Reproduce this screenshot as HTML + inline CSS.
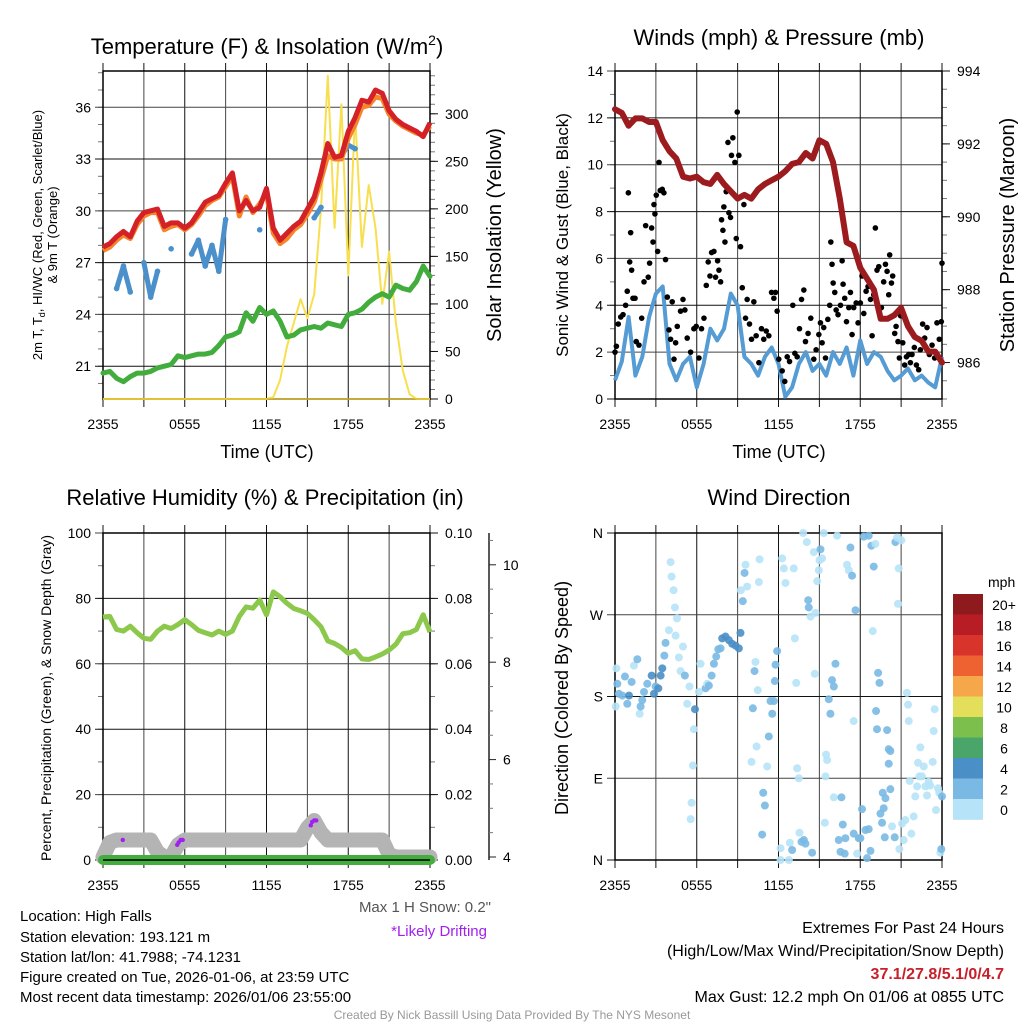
<!DOCTYPE html>
<html><head><meta charset="utf-8"><title>NYS Mesonet Meteogram</title>
<style>
html,body{margin:0;padding:0;background:#fff;}
svg{display:block;font-family:"Liberation Sans",Arial,sans-serif;}
</style></head>
<body>
<svg id="fig" width="1024" height="1024" viewBox="0 0 1024 1024" xmlns="http://www.w3.org/2000/svg">
<rect width="1024" height="1024" fill="#fff"/>
<text x="267" y="54" font-size="22" text-anchor="middle">Temperature (F) &amp; Insolation (W/m<tspan font-size="14" dy="-9">2</tspan><tspan dy="9">)</tspan></text>
<text x="779" y="45" font-size="22" text-anchor="middle">Winds (mph) &amp; Pressure (mb)</text>
<text x="265" y="505" font-size="22" text-anchor="middle">Relative Humidity (%) &amp; Precipitation (in)</text>
<text x="779" y="505" font-size="22" text-anchor="middle">Wind Direction</text>
<text x="267" y="458" font-size="18" text-anchor="middle">Time (UTC)</text>
<text x="779" y="458" font-size="18" text-anchor="middle">Time (UTC)</text>
<text transform="translate(42,235) rotate(-90)" font-size="13" text-anchor="middle">2m T, T<tspan font-size="9" dy="3">d</tspan><tspan dy="-3">, HI/WC (Red, Green, Scarlet/Blue)</tspan></text>
<text transform="translate(57,235) rotate(-90)" font-size="13" text-anchor="middle">&amp; 9m T (Orange)</text>
<text transform="translate(501,235) rotate(-90)" font-size="20" text-anchor="middle">Solar Insolation (Yellow)</text>
<text transform="translate(568,235) rotate(-90)" font-size="17" text-anchor="middle">Sonic Wind &amp; Gust (Blue, Black)</text>
<text transform="translate(1014,235) rotate(-90)" font-size="20" text-anchor="middle">Station Pressure (Maroon)</text>
<text transform="translate(51,698) rotate(-90)" font-size="14" text-anchor="middle">Percent, Precipitation (Green), &amp; Snow Depth (Gray)</text>
<text transform="translate(568,698) rotate(-90)" font-size="18" text-anchor="middle">Direction (Colored By Speed)</text>
<g font-size="15">
<text x="20" y="921">Location: High Falls</text>
<text x="20" y="942">Station elevation: 193.121 m</text>
<text x="20" y="962">Station lat/lon: 41.7988; -74.1231</text>
<text x="20" y="982">Figure created on Tue, 2026-01-06, at 23:59 UTC</text>
<text x="20" y="1002">Most recent data timestamp: 2026/01/06 23:55:00</text>
</g>
<text x="491" y="912" font-size="15" fill="#555" text-anchor="end">Max 1 H Snow: 0.2"</text>
<text x="487" y="936" font-size="15" fill="#a020f0" text-anchor="end">*Likely Drifting</text>
<text x="1004" y="933" font-size="16" text-anchor="end">Extremes For Past 24 Hours</text>
<text x="1004" y="956" font-size="16" text-anchor="end">(High/Low/Max Wind/Precipitation/Snow Depth)</text>
<text x="1004" y="979" font-size="16" font-weight="bold" fill="#c8202a" text-anchor="end">37.1/27.8/5.1/0/4.7</text>
<text x="1004" y="1002" font-size="16" text-anchor="end">Max Gust: 12.2 mph On 01/06 at 0855 UTC</text>
<text x="512" y="1019" font-size="12" fill="#999" text-anchor="middle">Created By Nick Bassill Using Data Provided By The NYS Mesonet</text>
<text x="988" y="587" font-size="14">mph</text>
</svg>
<script>
const timeLabels = ["2355","0555","1155","1755","2355"];
const lineHours = [0,0.5,1,1.5,2,2.5,3,3.5,4,4.5,5,5.5,6,6.5,7,7.5,8,8.5,9,9.5,10,10.5,11,11.5,12,12.5,13,13.5,14,14.5,15,15.5,16,16.5,17,17.5,18,18.5,19,19.5,20,20.5,21,21.5,22,22.5,23,23.5,24];
const tempRed = [27.9,28.1,28.5,28.8,28.5,29.4,29.9,30.0,30.1,29.1,29.3,29.3,29.0,29.3,29.9,30.5,30.7,30.9,31.6,32.2,30.0,30.6,30.0,30.2,31.3,29.0,28.3,28.7,29.1,29.4,30.1,30.8,32.2,33.9,33.1,33.2,34.6,35.4,36.4,36.3,37.0,36.8,35.8,35.3,35.0,34.8,34.6,34.3,35.1];
const temp9m = [27.7,27.9,28.3,28.6,28.4,29.2,29.7,29.9,29.9,28.9,29.1,29.2,28.9,29.2,29.7,30.3,30.6,30.8,31.4,32.0,29.7,30.8,29.9,30.4,31.0,28.7,28.1,28.4,28.9,29.2,29.8,30.5,31.8,33.2,33.0,33.0,34.2,35.0,36.0,36.1,36.6,36.5,35.6,35.2,34.9,34.7,34.5,34.4,34.9];
const tempDew = [20.6,20.7,20.3,20.1,20.4,20.6,20.6,20.7,20.9,21.0,21.1,21.6,21.5,21.6,21.7,21.7,21.8,22.2,22.7,22.8,23.0,24.1,23.6,24.4,24.0,24.2,23.6,22.7,22.8,23.1,23.2,23.3,23.2,23.5,23.4,23.3,24.0,24.1,24.3,24.7,25.0,25.2,25.0,25.7,25.5,25.4,25.9,26.8,26.2];
const windChill = [null,null,25.5,26.8,25.3,null,27.0,25.0,26.5,null,27.8,null,null,27.5,28.3,26.8,28.0,26.5,29.5,null,null,null,null,28.9,null,null,null,null,null,null,null,29.6,30.2,null,null,33.2,33.8,33.6,null,null,null,null,null,null,null,null,null,null,null];
const solar = [0,0,0,0,0,0,0,0,0,0,0,0,0,0,0,0,0,0,0,0,0,0,0,0,0,2,20,55,80,105,85,110,200,340,180,310,130,300,160,225,180,100,155,80,30,5,0,0,0];
const sonicWind = [0.8,1.6,3.5,1.0,1.8,3.5,4.5,4.8,1.5,0.8,1.5,1.8,0.5,1.5,3.0,2.5,3.0,4.5,4.0,1.8,1.5,1.0,1.8,2.2,1.5,0.1,0.5,1.5,2.0,1.2,1.5,1.0,2.0,1.5,2.2,1.0,2.5,1.5,2.0,1.8,1.2,0.8,1.0,1.3,0.8,1.0,0.7,0.5,1.8];
const pressure = [992.95,992.85,992.5,992.7,992.7,992.6,992.6,992.1,991.8,991.6,991.1,991.05,991.1,990.95,990.9,991.15,990.9,990.7,990.5,990.6,990.5,990.75,990.9,991.0,991.1,991.25,991.45,991.5,991.75,991.6,992.1,992.0,991.5,990.5,989.3,989.2,988.6,988.3,988.0,987.2,987.2,987.3,987.5,987.0,986.7,986.6,986.3,986.3,986.0];
const gustHours = [0,0.1,0.24,0.42,0.59,0.78,0.9,0.98,1.08,1.15,1.22,1.32,1.47,1.56,1.76,1.96,2.13,2.25,2.44,2.54,2.69,2.79,2.86,2.93,3.03,3.13,3.23,3.32,3.47,3.59,3.71,3.84,3.96,4.08,4.2,4.33,4.45,4.57,4.81,4.99,5.13,5.3,5.55,5.79,5.96,6.16,6.35,6.53,6.7,6.84,6.97,7.09,7.26,7.38,7.53,7.63,7.75,7.82,7.92,7.99,8.07,8.16,8.29,8.36,8.48,8.55,8.65,8.8,8.9,8.97,9.09,9.21,9.34,9.46,9.58,9.7,9.87,10.02,10.19,10.36,10.56,10.75,10.92,11.1,11.29,11.49,11.66,11.78,11.9,12.02,12.27,12.46,12.64,12.81,13.05,13.2,13.37,13.54,13.69,13.86,13.98,14.17,14.37,14.59,14.76,14.96,15.08,15.2,15.32,15.45,15.62,15.76,15.84,15.93,16.01,16.13,16.23,16.37,16.55,16.67,16.74,16.86,16.99,17.16,17.28,17.4,17.52,17.7,17.84,18.01,18.13,18.26,18.43,18.57,18.75,18.87,18.99,19.11,19.23,19.36,19.55,19.72,19.85,19.97,20.09,20.16,20.29,20.38,20.53,20.63,20.77,20.87,20.97,21.12,21.26,21.39,21.56,21.68,21.8,21.97,22.12,22.29,22.41,22.58,22.73,22.9,23.07,23.27,23.46,23.63,23.8,23.95,24];
const gustValues = [2.0,2.25,3.2,3.5,3.6,4.0,4.6,8.8,5.85,7.1,5.5,4.3,4.3,2.45,2.3,3.45,5.0,7.4,5.2,5.8,7.3,6.7,8.3,7.9,8.7,6.3,10.1,8.9,8.95,8.8,5.95,4.35,2.95,2.55,4.15,1.7,2.4,3.1,3.75,4.25,3.8,2.6,2.0,3.0,3.1,1.75,3.0,3.45,4.85,5.85,5.25,6.25,6.3,5.2,5.9,5.5,5.0,7.65,7.2,8.2,6.7,8.85,10.95,7.95,7.75,10.4,11.15,10.1,6.85,12.25,10.4,6.5,4.75,8.3,3.45,4.25,3.2,2.55,4.15,2.7,1.55,3.0,2.55,2.9,2.7,4.55,4.3,4.55,3.75,1.7,1.2,0.75,1.8,1.6,4.0,1.95,1.8,3.0,4.25,4.65,2.45,2.8,3.45,1.7,2.1,2.75,3.25,2.4,3.05,1.75,3.4,4.0,6.7,5.75,4.95,4.55,3.8,3.6,4.0,5.9,4.9,4.3,3.3,3.9,4.55,2.75,3.9,4.1,3.25,4.1,5.25,3.65,4.6,4.8,4.25,2.7,4.45,7.3,5.5,5.65,3.9,5.0,5.75,5.45,4.45,6.15,4.95,5.25,2.8,3.1,2.45,1.75,3.55,2.4,1.45,1.8,1.9,1.55,1.9,2.2,1.45,1.25,2.1,3.2,2.6,3.05,1.9,2.3,1.75,3.25,2.55,3.3,5.8];
const relHumidity = [74.3,74.5,70.5,70,71.5,69.5,67.8,67.5,70,71.5,70.8,72,73.5,72,70.2,69.5,68.8,70,69,70,74.5,77.4,77,79.5,75,82,80.5,78.5,76.9,76.2,75.4,73.5,71.3,67,66.2,65,63.2,64,61.5,61.3,62.1,63,64.2,66,69.2,69.5,70.5,75,69.7];
const precip = [0,0,0,0,0,0,0,0,0,0,0,0,0,0,0,0,0,0,0,0,0,0,0,0,0,0,0,0,0,0,0,0,0,0,0,0,0,0,0,0,0,0,0,0,0,0,0,0,0];
const snowDepth = [4.0,4.3,4.35,4.35,4.35,4.35,4.35,4.35,4.1,4.0,4.0,4.25,4.35,4.35,4.35,4.35,4.35,4.35,4.35,4.35,4.35,4.35,4.35,4.35,4.35,4.35,4.35,4.35,4.35,4.35,4.6,4.75,4.5,4.35,4.35,4.35,4.35,4.35,4.35,4.35,4.35,4.35,4.05,4.0,4.0,4.0,4.0,4.0,4.0];
const driftHours = [1.45,5.45,5.55,5.7,5.85,15.25,15.35,15.5,15.65];
const driftDepth = [4.35,4.25,4.3,4.35,4.35,4.65,4.72,4.75,4.75];
const dirHours = [
0.10,0.17,0.05,0.29,0.54,0.73,0.90,1.03,1.22,1.39,
1.64,1.81,1.88,2.00,2.13,2.37,2.69,2.86,2.98,3.18,
3.35,3.47,3.62,3.71,4.08,4.15,4.30,4.40,4.55,3.96,
4.45,4.69,4.81,4.99,5.13,5.30,5.47,5.87,5.79,5.72,
5.62,5.55,6.16,6.28,6.65,6.77,6.89,7.09,7.26,7.43,
7.58,7.75,7.87,8.11,8.36,8.60,8.85,9.09,9.21,9.24,
9.38,9.51,9.58,9.70,10.02,10.12,10.24,10.31,10.39,10.48,
10.56,10.61,10.80,10.88,11.00,11.17,11.29,11.41,11.54,11.66,
11.73,11.78,11.90,12.15,12.15,12.27,12.39,12.51,12.76,12.83,
13.00,13.12,13.20,13.30,13.37,13.49,13.54,13.69,13.86,13.98,
14.08,13.81,14.18,14.22,14.35,14.47,14.59,14.66,14.71,14.84,
14.96,15.01,15.08,15.20,15.32,15.40,15.49,15.57,15.45,15.69,
15.81,15.93,16.06,16.18,16.06,16.30,16.42,16.55,16.62,16.72,
16.86,16.91,17.03,17.16,17.28,17.40,17.52,17.52,17.65,17.77,
17.89,18.01,18.13,18.26,18.38,18.50,18.62,18.62,18.75,18.82,
18.92,18.99,19.11,19.16,19.23,19.31,19.41,19.48,19.60,19.65,
19.72,19.85,19.80,19.97,20.09,20.21,20.09,20.21,20.33,20.53,
20.58,20.70,20.77,20.82,20.87,21.02,21.07,21.19,21.31,21.43,
21.51,21.56,21.63,21.75,21.92,22.04,22.17,22.24,22.34,22.41,
22.53,22.66,22.78,22.90,23.02,23.14,23.32,23.39,23.46,23.56,
23.71,23.80,23.88,23.95,24.00];
const dirDegrees = [
211,194,169,183,181,202,172,181,196,214,
221,161,169,176,185,194,203,183,191,189,
203,211,225,239,328,312,297,278,266,253,
247,223,208,235,203,172,191,166,144,104,
63,45,185,216,189,194,192,203,216,224,
232,233,244,246,242,238,236,233,250,297,
285,316,325,301,108,167,208,218,125,187,
306,331,28,74,60,103,136,175,161,175,
197,215,230,0,13,332,321,305,0,19,
11,321,244,195,101,90,30,20,22,18,
350,360,286,278,268,8,339,205,272,307,
319,330,342,332,360,41,116,110,92,177,
161,198,191,216,69,357,22,9,69,39,
7,24,325,319,344,313,153,29,275,7,
24,24,56,356,33,2,357,34,10,346,
252,323,348,164,144,206,195,51,41,74,
57,68,25,143,122,120,106,78,37,25,
350,355,282,321,12,352,40,22,44,184,
171,153,87,29,48,70,81,107,92,124,
92,103,81,71,86,82,108,142,166,55,
79,74,8,12,70];
const dirSpeeds = [
1,3,1,3,3,3,3,5,3,1,
3,1,3,3,3,3,5,5,3,5,
5,5,3,3,1,1,1,1,1,1,
1,1,1,1,3,1,1,5,1,1,
1,1,1,1,3,1,3,3,3,3,
3,3,5,5,5,5,5,5,5,1,
3,3,1,1,1,3,3,1,1,1,
1,1,3,3,3,1,3,3,3,3,
3,3,3,1,1,1,1,1,1,1,
3,1,1,1,1,1,1,3,3,3,
1,1,3,3,1,3,1,1,1,1,
1,1,3,1,1,1,1,1,1,3,
3,3,3,3,1,1,3,3,3,3,
3,3,1,1,3,3,1,3,3,1,
3,3,3,3,3,3,3,3,3,3,
1,3,1,3,3,3,3,3,3,3,
3,3,3,3,3,3,3,3,1,3,
3,1,1,1,1,1,1,1,1,1,
1,1,1,1,1,1,1,1,1,1,
1,1,1,1,1,1,1,1,1,1,
1,1,1,3,3];
const speedBins = ["20+","18","16","14","12","10","8","6","4","2","0"];
const binColors = ["#8f1a1e","#b81d25","#d9342b","#ee6130","#f5a74a","#e3df5b","#7cbf4c","#4aa56b","#4a8fc6","#7ab9e3","#b6e3f7"];

const NS = "http://www.w3.org/2000/svg";
const svg = document.getElementById("fig");
function mk(tag, attrs, parent) {
  const el = document.createElementNS(NS, tag);
  for (const k in attrs) el.setAttribute(k, attrs[k]);
  (parent || svg).appendChild(el);
  return el;
}
const P1 = {x0:103,x1:430,y0:71,y1:399};
const P2 = {x0:615,x1:942,y0:71,y1:399};
const P3 = {x0:103,x1:430,y0:533,y1:860};
const P4 = {x0:615,x1:942,y0:533,y1:860};
function xs(P, h) { return P.x0 + h / 24 * (P.x1 - P.x0); }
function lin(P, lo, hi) { return v => P.y1 - (v - lo) / (hi - lo) * (P.y1 - P.y0); }
const yT = lin(P1, 19.1, 38.1), yS = lin(P1, 0, 345);
const yW = lin(P2, 0, 14), yP = lin(P2, 985, 994);
const yR = lin(P3, 0, 100), yPr = lin(P3, 0, 0.1);
const ySn = d => 857 - (d - 4) * 48.7;
const yD = lin(P4, 0, 360);
function pathFrom(P, xsArr, ysArr, yf) {
  let d = "", pen = false;
  for (let i = 0; i < xsArr.length; i++) {
    if (ysArr[i] === null || ysArr[i] === undefined) { pen = false; continue; }
    d += (pen ? "L" : "M") + xs(P, xsArr[i]).toFixed(1) + "," + yf(ysArr[i]).toFixed(1);
    pen = true;
  }
  return d;
}

function frame(P, id, leftTicks, leftMinor, yl, leftLbl, rightTicks, rightMinor, yr, rightLbl) {
  const g = mk("g", {});
  
  
  for (let i = 0; i <= 8; i++) {
    const x = P.x0 + i * (P.x1 - P.x0) / 8;
    const gl = mk("line", {x1:x, x2:x, y1:P.y0, y2:P.y1, stroke: i % 2 ? "#444" : "#111", "stroke-width":1}, g);
    
    
    const tt = mk("line", {x1:x, x2:x, y1:P.y0 - 8, y2:P.y0, stroke:"#111"}, g);
    
    
    const bt = mk("line", {x1:x, x2:x, y1:P.y1, y2:P.y1 + 8, stroke:"#111"}, g);
    
    
    if (i % 2 === 0) {
      const t = mk("text", {x:x, y:P.y1 + 30, "font-size":14, "text-anchor":"middle"}, g);
      t.textContent = timeLabels[i / 2];
      
      
    }
  }
  leftMinor.forEach(v => {
    const m = mk("line", {x1:P.x0 - 5, x2:P.x0, y1:yl(v), y2:yl(v), stroke:"#777"}, g);
    
    
  });
  leftTicks.forEach((v, i) => {
    const y = yl(v);
    const gl = mk("line", {x1:P.x0 - 8, x2:P.x1, y1:y, y2:y, stroke: i % 2 ? "#444" : "#111"}, g);
    
    
    const t = mk("text", {x:P.x0 - 12, y:y + 5, "font-size":14, "text-anchor":"end"}, g);
    t.textContent = leftLbl[i];
    
    
  });
  rightMinor.forEach(v => {
    const m = mk("line", {x1:P.x1, x2:P.x1 + 5, y1:yr(v), y2:yr(v), stroke:"#777"}, g);
    
    
  });
  rightTicks.forEach((v, i) => {
    const y = yr(v);
    const tk = mk("line", {x1:P.x1, x2:P.x1 + 8, y1:y, y2:y, stroke:"#111"}, g);
    
    
    const t = mk("text", {x:P.x1 + 15, y:y + 5, "font-size":14}, g);
    t.textContent = rightLbl[i];
    
    
  });
  const box = mk("rect", {x:P.x0, y:P.y0, width:P.x1 - P.x0, height:P.y1 - P.y0, fill:"none", stroke:"#000", "stroke-width":1.5}, g);
  
  
}
function range(a, b, s) { const r = []; for (let v = a; v <= b + 1e-9; v += s) r.push(+v.toFixed(4)); return r; }
frame(P1, "temperature", [21,24,27,30,33,36], range(20,38,1), yT, ["21","24","27","30","33","36"],
      [0,50,100,150,200,250,300], range(0,340,10), yS, ["0","50","100","150","200","250","300"]);
frame(P2, "winds", [0,2,4,6,8,10,12,14], range(0,14,1), yW, ["0","2","4","6","8","10","12","14"],
      [986,988,990,992,994], range(985,994,0.5), yP, ["986","988","990","992","994"]);
frame(P3, "humidity", [0,20,40,60,80,100], range(0,100,10), yR, ["0","20","40","60","80","100"],
      [0,0.02,0.04,0.06,0.08,0.1], range(0,0.1,0.01), yPr, ["0.00","0.02","0.04","0.06","0.08","0.10"]);
frame(P4, "direction", [0,90,180,270,360], [], yD, ["N","E","S","W","N"], [], [], yD, []);

const snowAxis = mk("line", {x1:489, x2:489, y1:533, y2:860, stroke:"#222", "stroke-width":1.5});


range(4, 10.5, 0.5).forEach(v => {
  const major = Math.abs(v % 2) < 1e-6;
  const tk = mk("line", {x1:489, x2:489 + (major ? 7 : 4), y1:ySn(v), y2:ySn(v), stroke: major ? "#222" : "#777"});
  
  
  if (major) {
    const t = mk("text", {x:503, y:ySn(v) + 5, "font-size":14});
    t.textContent = String(v);
    
    
  }
});

const solarLine = mk("path", {d:pathFrom(P1, lineHours, solar, yS), fill:"none", stroke:"#f7df4f", "stroke-width":2, "stroke-linejoin":"round"});


const dewLine = mk("path", {d:pathFrom(P1, lineHours, tempDew, yT), fill:"none", stroke:"#42ad3c", "stroke-width":5, "stroke-linejoin":"round", "stroke-linecap":"round"});


const wcLine = mk("path", {d:pathFrom(P1, lineHours, windChill, yT), fill:"none", stroke:"#4b90cb", "stroke-width":5, "stroke-linejoin":"round", "stroke-linecap":"round"});


windChill.forEach((v, i) => {
  if (v === null) return;
  const c = mk("circle", {cx:xs(P1, lineHours[i]), cy:yT(v), r:2.8, fill:"#4b90cb"});
  
  
});
const t9Line = mk("path", {d:pathFrom(P1, lineHours, temp9m, yT), fill:"none", stroke:"#f5852b", "stroke-width":5, "stroke-linejoin":"round"});


const tLine = mk("path", {d:pathFrom(P1, lineHours, tempRed, yT), fill:"none", stroke:"#d42027", "stroke-width":5, "stroke-linejoin":"round"});


const sunZero = mk("line", {x1:P1.x0, x2:P1.x1, y1:yS(0), y2:yS(0), stroke:"#d9b92b", "stroke-width":1.5});



const windLine = mk("path", {d:pathFrom(P2, lineHours, sonicWind, yW), fill:"none", stroke:"#559bd4", "stroke-width":4, "stroke-linejoin":"round"});


gustHours.forEach((h, i) => {
  if (gustValues[i] === undefined) return;
  const c = mk("circle", {cx:xs(P2, h), cy:yW(gustValues[i]), r:2.8, fill:"#000"});
  
  
});
const pLine = mk("path", {d:pathFrom(P2, lineHours, pressure, yP), fill:"none", stroke:"#9b1b1e", "stroke-width":6, "stroke-linejoin":"round", "stroke-linecap":"round"});



const snowLine = mk("path", {d:pathFrom(P3, lineHours, snowDepth, ySn), fill:"none", stroke:"#b4b4b4", "stroke-width":15, "stroke-linejoin":"round", "stroke-linecap":"round"});


const prLine = mk("path", {d:pathFrom(P3, lineHours, precip, yPr), fill:"none", stroke:"#43ad3d", "stroke-width":10, "stroke-linecap":"round"});


const rhLine = mk("path", {d:pathFrom(P3, lineHours, relHumidity, yR), fill:"none", stroke:"#8cc84b", "stroke-width":5, "stroke-linejoin":"round"});


driftHours.forEach((h, i) => {
  const c = mk("circle", {cx:xs(P3, h), cy:ySn(driftDepth[i]), r:2.2, fill:"#a020f0"});
  
  
});
const base = mk("line", {x1:P3.x0, x2:P3.x1, y1:P3.y1, y2:P3.y1, stroke:"#000", "stroke-width":1.5});



function speedColor(s) {
  const v = (s === undefined) ? 1 : s;
  const idx = Math.max(0, Math.min(10, Math.floor(v / 2)));
  return binColors[10 - idx];
}
dirHours.forEach((h, i) => {
  const c = mk("circle", {cx:xs(P4, h), cy:yD(dirDegrees[i]), r:4, fill:speedColor(dirSpeeds[i]), "fill-opacity":0.9});
  
  
});
speedBins.forEach((lbl, i) => {
  const y = 594 + i * 20.5;
  const r = mk("rect", {x:953, y:y, width:30, height:20.8, fill:binColors[i]});
  
  
  const t = mk("text", {x:1004, y:y + 16, "font-size":14, "text-anchor":"middle"});
  t.textContent = lbl;
  
  
});
</script>
</body></html>
